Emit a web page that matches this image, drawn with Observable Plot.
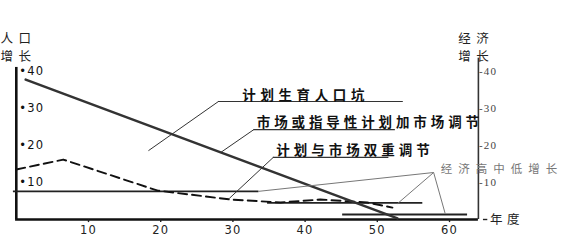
<!DOCTYPE html>
<html><head><meta charset="utf-8">
<script src="https://cdn.jsdelivr.net/npm/d3@7"></script>
<script src="https://cdn.jsdelivr.net/npm/@observablehq/plot@0.6"></script>
<style>
html,body{margin:0;padding:0;background:#fff;}
#chart svg{display:block;background:#fff;overflow:visible;}
</style></head><body><div id="chart"></div>
<script>
// ---- data ----
const xTicks = [10, 20, 30, 40, 50, 60];
const leftTicks = [10, 20, 30, 40];
const rightTicks = [10, 20, 30, 40];

// 计划生育人口坑 (thick solid line)
const popYears = [1.3, 52.8];
const popValues = [37.8, 0.3];

// 人口增长 dashed line
const dashYears = [0, 6.5, 19.6, 29.7, 36.6, 42.1, 48.6, 52.1];
const dashValues = [13.5, 16.2, 7.8, 5.4, 4.6, 5.4, 4.6, 3.2];

// 经济高中低增长 (horizontal segments)
const growthStart = [-0.4, 34.8, 45.2];
const growthEnd = [33.6, 56.3, 62.5];
const growthLevel = [7.6, 4.5, 1.35];

// annotation labels
const labels = ["计划生育人口坑", "市场或指导性计划加市场调节", "计划与市场双重调节"];
const labelX = [31.3, 33.3, 36.0];
const labelY = [33.5, 26.2, 18.6];
const underlineStart = [28.0, 32.9, 35.6];
const underlineEnd = [53.6, 52.5, 51.6];
const underlineY = [31.9, 24.3, 16.8];
const pointerX = [18.3, 28.3, 29.5];
const pointerY = [18.6, 18.1, 5.7];

const growthLabel = "经济高中低增长";
const growthLabelX = 58.8, growthLabelY = 13.5;
const growthAnchorX = 57.8, growthAnchorY = 12.7;
const growthTargetX = [33.5, 52.8, 59.4];
const growthTargetY = [7.6, 4.3, 1.6];

const axisTitles = ["人口", "增长", "经济", "增长", "年度"];
const axisTitleX = [-2.2, -2.2, 61.2, 61.2, 65.6];
const axisTitleY = [48.9, 43.8, 48.7, 43.9, 0];

// ---- tables built from arrays ----
const pop = popYears.map((x, i) => ({x, y: popValues[i]}));
const dash = dashYears.map((x, i) => ({x, y: dashValues[i]}));
const growth = growthStart.map((s, i) => ({x1: s, x2: growthEnd[i], y: growthLevel[i]}));
const ann = labels.map((t, i) => ({t, x: labelX[i], y: labelY[i], u1: underlineStart[i], u2: underlineEnd[i], uy: underlineY[i], px: pointerX[i], py: pointerY[i]}));
const gLinks = growthTargetX.map((x, i) => ({x1: growthAnchorX, y1: growthAnchorY, x2: x, y2: growthTargetY[i]}));
const titles = axisTitles.map((t, i) => ({t, x: axisTitleX[i], y: axisTitleY[i]}));

const CJK = "'Noto Sans CJK SC', sans-serif";

const plot = Plot.plot({
  width: 579,
  height: 241,
  margin: 0,
  style: {background: "#fff", overflow: "visible"},
  x: {domain: [0, 64], range: [15.8, 477.9], axis: null},
  y: {domain: [0, 40], range: [219, 71], axis: null},
  marks: [
    // axes lines
    Plot.ruleX([0], {y1: 0, y2: 41.1, stroke: "#111", strokeWidth: 2.6}),
    Plot.ruleX([64], {y1: 0, y2: 43.6, stroke: "#333", strokeWidth: 1.6}),
    Plot.ruleY([0], {x1: -0.1, x2: 64, stroke: "#111", strokeWidth: 2.4}),
    Plot.ruleY([0], {x1: 64.7, x2: 65.3, stroke: "#222", strokeWidth: 1.4}),
    // x ticks
    Plot.link(xTicks, {x1: d => d, x2: d => d, y1: 0, y2: -0.7, stroke: "#222", strokeWidth: 1.4}),
    Plot.text(xTicks, {x: d => d, y: 0, dy: 11, text: d => String(d), fontSize: 11.5, fill: "#222", fontFamily: "DejaVu Sans"}),
    // left tick labels
    Plot.text(leftTicks, {x: 0, y: d => d, dx: 3, text: d => "•" + d, textAnchor: "start", fontSize: 11.5, fill: "#111", fontFamily: "DejaVu Sans"}),
    // right tick labels
    Plot.text(rightTicks, {x: 64, y: d => d, dx: 0.5, text: d => "-" + d, textAnchor: "start", fontSize: 11, fill: "#444", fontFamily: "Liberation Serif"}),
    // growth segments
    Plot.ruleY(growth, {x1: "x1", x2: "x2", y: "y", stroke: "#222", strokeWidth: 1.9}),
    // dashed population growth
    Plot.line(dash, {x: "x", y: "y", stroke: "#111", strokeWidth: 1.9, strokeDasharray: "9,5"}),
    // main thick line
    Plot.line(pop, {x: "x", y: "y", stroke: "#333", strokeWidth: 2.6}),
    // annotation underlines and pointers
    Plot.ruleY(ann, {x1: "u1", x2: "u2", y: "uy", stroke: "#333", strokeWidth: 1.1}),
    Plot.link(ann, {x1: "px", y1: "py", x2: "u1", y2: "uy", stroke: "#333", strokeWidth: 1}),
    Plot.link(gLinks, {x1: "x1", y1: "y1", x2: "x2", y2: "y2", stroke: "#777", strokeWidth: 1}),
    // annotation texts
    Plot.text(ann, {x: "x", y: "y", text: "t", textAnchor: "start", fontSize: 13.5, fontWeight: "bold", fill: "#111", fontFamily: CJK}),
    Plot.text([growthLabel], {x: growthLabelX, y: growthLabelY, text: d => d, textAnchor: "start", fontSize: 11.5, fill: "#777", fontFamily: CJK}),
    Plot.text(titles, {x: "x", y: "y", text: "t", textAnchor: "start", fontSize: 12.5, fill: "#222", fontFamily: CJK})
  ]
});

// letter spacing tweaks (the reference is horizontally stretched)
const spacing = new Map([
  ["计划生育人口坑", "4.6px"], ["市场或指导性计划加市场调节", "3.9px"], ["计划与市场双重调节", "4px"],
  ["经济高中低增长", "6px"], ["人口", "5.5px"], ["增长", "5.5px"], ["经济", "5.5px"], ["年度", "4.5px"]
]);
d3.select(plot).selectAll("text").each(function() {
  const t = this.textContent;
  if (spacing.has(t)) this.style.letterSpacing = spacing.get(t);
  else if (/^[•\-]?\d+$/.test(t)) this.style.letterSpacing = "1.2px";
});
document.getElementById("chart").appendChild(plot);
</script>
</body></html>
